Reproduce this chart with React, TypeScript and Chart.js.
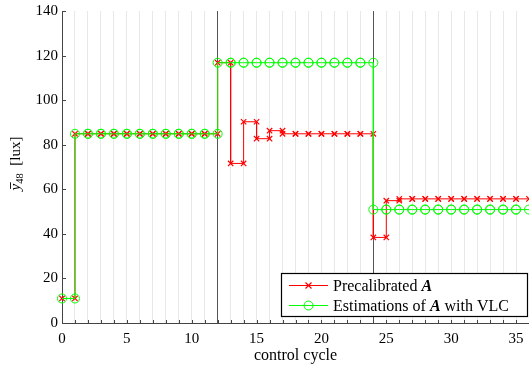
import { useEffect, useRef } from 'react';
import { Chart, registerables } from 'chart.js';

Chart.register(...registerables);

// control cycle k -> value held from k to k+1
const precalibratedValues = [
  11,
  84.9, 84.9, 84.9, 84.9, 84.9, 84.9, 84.9, 84.9, 84.9, 84.9, 84.9,
  116.8, 71.6, 90.3, 82.7, 86.3,
  84.9, 84.9, 84.9, 84.9, 84.9, 84.9, 84.9,
  38.4, 54.9,
  55.7, 55.7, 55.7, 55.7, 55.7, 55.7, 55.7, 55.7, 55.7, 55.7,
];
const vlcValues = [
  11,
  84.9, 84.9, 84.9, 84.9, 84.9, 84.9, 84.9, 84.9, 84.9, 84.9, 84.9,
  116.8, 116.8, 116.8, 116.8, 116.8, 116.8, 116.8, 116.8, 116.8, 116.8, 116.8, 116.8,
  50.9, 50.9, 50.9, 50.9, 50.9, 50.9, 50.9, 50.9, 50.9, 50.9, 50.9, 50.9,
];
const xTickLabels = [0, 5, 10, 15, 20, 25, 30, 35];
const yTickLabels = [0, 20, 40, 60, 80, 100, 120, 140];
const phaseBoundaries = [12, 24];
const seriesLabels = ['Precalibrated', 'Estimations of', 'with VLC'];
const xTitle = 'control cycle';

const RED = '#ff0000';
const GREEN = '#00ff00';
const FONT = "'Liberation Serif', 'Times New Roman', serif";

const toSteps = (vals: number[]) =>
  vals.flatMap((v, k) => [
    { x: k, y: v },
    { x: k + 1, y: v },
  ]);

const innerTicks = {
  id: 'innerTicks',
  beforeDatasetsDraw(chart: any) {
    const { ctx, chartArea, scales } = chart;
    ctx.save();
    ctx.strokeStyle = '#444';
    ctx.lineWidth = 1;
    ctx.beginPath();
    for (let v = 0; v <= 36; v++) {
      const px = Math.round(scales.x.getPixelForValue(v)) + 0.5;
      ctx.moveTo(px, chartArea.bottom);
      ctx.lineTo(px, chartArea.bottom - 3);
    }
    for (const v of yTickLabels) {
      const py = Math.round(scales.y.getPixelForValue(v)) + 0.5;
      ctx.moveTo(chartArea.left, py);
      ctx.lineTo(chartArea.left + 4, py);
    }
    ctx.stroke();
    ctx.restore();
  },
};

const yTitle = {
  id: 'yTitle',
  afterDraw(chart: any) {
    const { ctx } = chart;
    ctx.save();
    ctx.translate(19.5, 163.5);
    ctx.rotate(-Math.PI / 2);
    ctx.fillStyle = '#000';
    ctx.strokeStyle = '#000';
    ctx.textBaseline = 'alphabetic';
    ctx.textAlign = 'left';
    const big = `italic 15px ${FONT}`;
    const sub = `10.5px ${FONT}`;
    const reg = `15px ${FONT}`;
    ctx.font = big;
    const wy = ctx.measureText('y').width;
    ctx.font = sub;
    const ws = ctx.measureText('48').width;
    ctx.font = reg;
    const wl = ctx.measureText('  [lux]').width;
    const total = wy + ws + wl;
    let x = -total / 2;
    ctx.font = big;
    ctx.fillText('y', x, 0);
    ctx.lineWidth = 0.9;
    ctx.beginPath();
    ctx.moveTo(x + 1.5, -9);
    ctx.lineTo(x + wy + 1.5, -9);
    ctx.stroke();
    x += wy;
    ctx.font = sub;
    ctx.fillText('48', x, 3);
    x += ws;
    ctx.font = reg;
    ctx.fillText('  [lux]', x, 0);
    ctx.restore();
  },
};

const boxLegend = {
  id: 'boxLegend',
  afterDraw(chart: any) {
    const { ctx } = chart;
    ctx.save();
    const L = 281.5, T = 273.5, R = 527.5, B = 316.5;
    ctx.fillStyle = '#fff';
    ctx.fillRect(L, T, R - L, B - T);
    ctx.strokeStyle = '#000';
    ctx.lineWidth = 1.2;
    ctx.strokeRect(L, T, R - L, B - T);
    const x0 = 289, x1 = 328, xm = (x0 + x1) / 2;
    // red row
    ctx.lineWidth = 1;
    ctx.strokeStyle = RED;
    ctx.beginPath();
    ctx.moveTo(x0, 285.5);
    ctx.lineTo(x1, 285.5);
    ctx.stroke();
    ctx.strokeStyle = RED;
    ctx.lineWidth = 1.2;
    ctx.beginPath();
    ctx.moveTo(xm - 3, 282.5);
    ctx.lineTo(xm + 3, 288.5);
    ctx.moveTo(xm + 3, 282.5);
    ctx.lineTo(xm - 3, 288.5);
    ctx.stroke();
    // green row
    ctx.lineWidth = 1;
    ctx.strokeStyle = GREEN;
    ctx.beginPath();
    ctx.moveTo(x0, 305.5);
    ctx.lineTo(x1, 305.5);
    ctx.stroke();
    ctx.beginPath();
    ctx.arc(xm, 305.5, 4.5, 0, Math.PI * 2);
    ctx.stroke();
    // text
    ctx.fillStyle = '#000';
    ctx.textBaseline = 'alphabetic';
    ctx.textAlign = 'left';
    const reg = `16px ${FONT}`;
    const bi = `bold italic 16px ${FONT}`;
    let x = 333;
    ctx.font = reg;
    ctx.fillText(seriesLabels[0] + ' ', x, 291);
    x += ctx.measureText(seriesLabels[0] + ' ').width;
    ctx.font = bi;
    ctx.fillText('A', x, 291);
    x = 333;
    ctx.font = reg;
    ctx.fillText(seriesLabels[1] + ' ', x, 310.5);
    x += ctx.measureText(seriesLabels[1] + ' ').width;
    ctx.font = bi;
    ctx.fillText('A', x, 310.5);
    x += ctx.measureText('A').width;
    ctx.font = reg;
    ctx.fillText(' ' + seriesLabels[2], x, 310.5);
    ctx.restore();
  },
};

export default function App() {
  const ref = useRef<HTMLCanvasElement>(null);
  useEffect(() => {
    if (!ref.current) return;
    const chart = new Chart(ref.current, {
      type: 'line',
      data: {
        datasets: [
          {
            label: 'Precalibrated A',
            data: toSteps(precalibratedValues),
            borderColor: RED,
            backgroundColor: 'rgba(0,0,0,0)',
            borderWidth: 1,
            pointStyle: 'crossRot',
            pointRadius: 3.8,
            pointBorderColor: RED,
            pointBorderWidth: 1.2,
            order: 2,
            clip: false,
          },
          {
            label: 'Estimations of A with VLC',
            data: toSteps(vlcValues),
            borderColor: GREEN,
            backgroundColor: 'rgba(0,0,0,0)',
            borderWidth: 1,
            pointStyle: 'circle',
            pointRadius: 4.5,
            pointBorderColor: GREEN,
            pointBackgroundColor: 'rgba(0,0,0,0)',
            pointBorderWidth: 1,
            order: 1,
            clip: false,
          },
        ],
      },
      options: {
        animation: false,
        responsive: false,
        devicePixelRatio: 1,
        events: [],
        layout: { autoPadding: false, padding: { left: 0, right: 0, top: 11, bottom: 0 } },
        plugins: { legend: { display: false }, tooltip: { enabled: false } },
        scales: {
          x: {
            type: 'linear',
            min: 0,
            max: 36,
            afterFit: (s: any) => {
              s.height = 45;
              s.paddingRight = 0;
              s.paddingLeft = 0;
            },
            ticks: {
              stepSize: 1,
              autoSkip: false,
              maxRotation: 0,
              padding: 7,
              color: '#000',
              font: { family: FONT, size: 15 },
              callback: (v: any) => (xTickLabels.includes(Number(v)) ? String(v) : ''),
            },
            grid: {
              drawTicks: false,
              lineWidth: 1,
              color: (c: any) =>
                c.tick && phaseBoundaries.includes(c.tick.value) ? '#555' : '#e8e8e8',
            },
            border: { display: true, color: '#444', width: 1 },
            title: {
              display: true,
              text: xTitle,
              color: '#000',
              font: { family: FONT, size: 16 },
              padding: { top: 0, bottom: 3 },
            },
          },
          y: {
            type: 'linear',
            min: 0,
            max: 140,
            afterFit: (s: any) => {
              s.width = 62;
              s.paddingTop = 0;
              s.paddingBottom = 0;
            },
            afterBuildTicks: (s: any) => {
              s.ticks = yTickLabels.map((v) => ({ value: v }));
            },
            ticks: {
              padding: 4,
              color: '#000',
              font: { family: FONT, size: 15 },
            },
            grid: { display: false, drawTicks: false },
            border: { display: true, color: '#444', width: 1 },
          },
        },
      },
      plugins: [innerTicks, yTitle, boxLegend],
    });
    return () => chart.destroy();
  }, []);
  return (
    <div style={{ position: 'fixed', left: 0, top: 0, width: 529, height: 368, background: '#fff' }}>
      <canvas ref={ref} width={529} height={368} style={{ display: 'block' }} />
    </div>
  );
}
